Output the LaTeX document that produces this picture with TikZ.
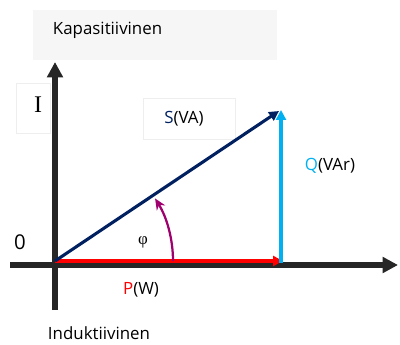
\documentclass[tikz,border=0pt]{standalone}
\usepackage{fontspec}
\setmainfont{Open Sans}
\newfontfamily\serifsym{Liberation Serif}
\usetikzlibrary{arrows.meta, positioning}

\definecolor{navyS}{HTML}{002060}
\definecolor{skyQ}{HTML}{00B0F0}
\definecolor{axisgray}{HTML}{262626}
\definecolor{arcpurple}{HTML}{A0006E}
\definecolor{boxgray}{HTML}{F6F6F6}
\definecolor{boxline}{HTML}{EEEEEE}

\begin{document}
\begin{tikzpicture}[x=0.025cm, y=0.025cm, font=\fontsize{12}{14}\selectfont,
    axis/.style={line width=3.6pt, draw=axisgray, -{Triangle[length=11pt,width=11pt]}},
    phasor/.style={line width=2.2pt, -{Triangle[length=7pt,width=7pt]}}]
    \useasboundingbox (0,0) rectangle (400,344);

    % Label boxes
    \fill[boxgray] (33,284) rectangle (277,334);
    \draw[boxline, line width=0.5pt] (16,211) rectangle (50,261);
    \draw[boxline, line width=0.5pt] (143,205) rectangle (235,246);

    % Axes
    \coordinate (xstart) at (10,79);
    \coordinate (xend) at (398,79);
    \coordinate (ystart) at (55,34);
    \coordinate (yend) at (55,282);
    \draw[axis] (xstart) -- (xend);
    \draw[axis] (ystart) -- (yend);

    % Phasors
    \coordinate (O) at (55,83);
    \coordinate (Pend) at (283,83);
    \coordinate (Qbase) at (281,81);
    \coordinate (Qtop) at (281,234);
    \coordinate (Stop) at (279,233);
    \draw[phasor, red, line width=2.8pt] (O) -- (Pend);
    \draw[phasor, skyQ] (Qbase) -- (Qtop);
    \draw[phasor, navyS] (O) -- (Stop);

    % Angle phi
    \draw[arcpurple, line width=1.6pt, -{Stealth[length=8pt,width=7pt]}]
        (173,83) arc[start angle=0, end angle=32, radius=118];

    % Texts
    \node[anchor=west] (kap) at (48,314) {Kapasitiivinen};
    \node (ind) at (99,11) {Induktiivinen};
    \node (zero) at (20,102) {\fontsize{14.5}{16}\selectfont 0};
    \node (ilabel) at (38,239) {\serifsym\fontsize{17}{18}\selectfont I};
    \node (slabel) at (184,225) {{\color{navyS}S}(VA)};
    \node (qlabel) at (330,178) {{\color{skyQ}Q}(VAr)};
    \node (plabel) at (141,54) {{\color{red}P}(W)};
    \node (phi) at (143,102) {\serifsym φ};
\end{tikzpicture}
\end{document}
